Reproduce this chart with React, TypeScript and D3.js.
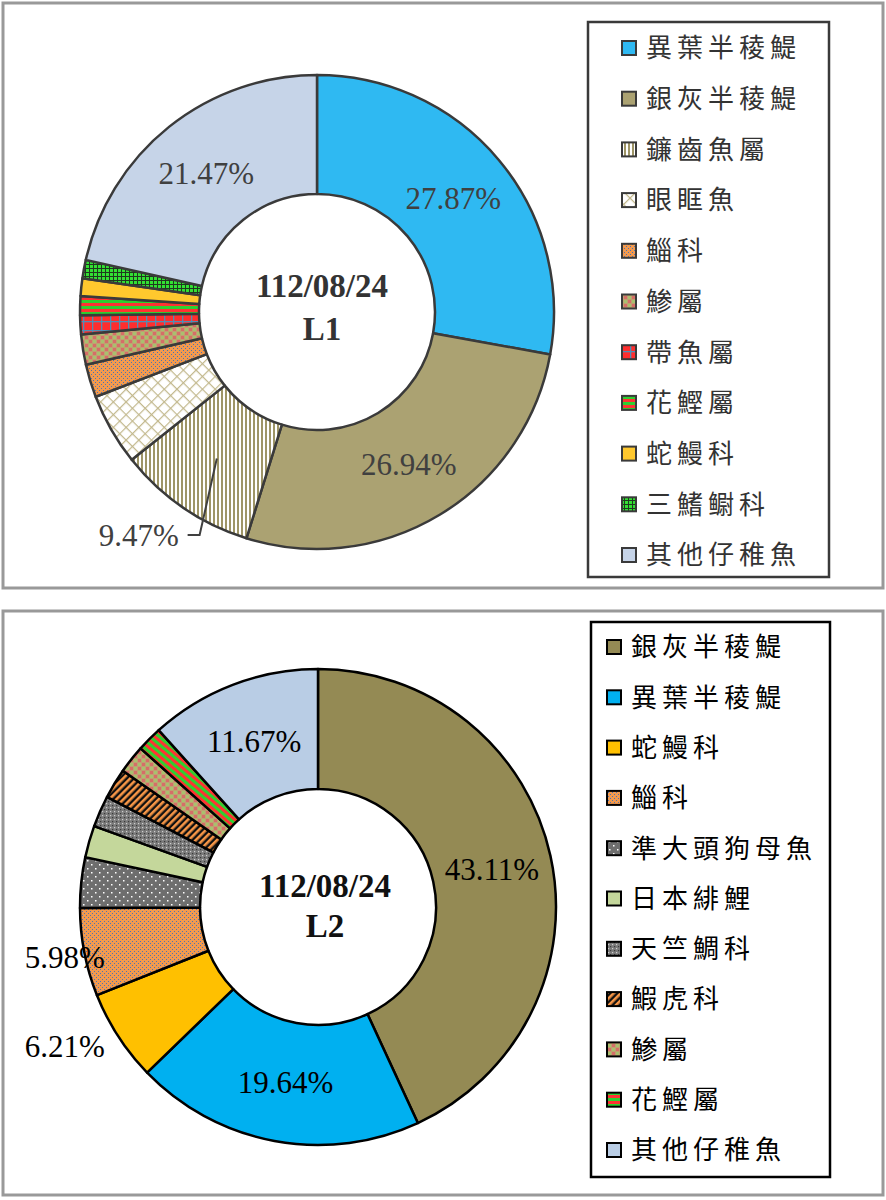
import React from "react";
import * as d3 from "d3";

// ---------- DATA ----------
const L1_NAMES = ["異葉半稜鯷", "銀灰半稜鯷", "鐮齒魚屬", "眼眶魚", "鯔科", "鯵屬", "帶魚屬", "花鰹屬", "蛇鰻科", "三鰭鳚科", "其他仔稚魚"];
const L1_VALUES = [27.87, 26.94, 9.47, 4.9, 2.25, 2.05, 1.3, 1.3, 1.2, 1.25, 21.47];
const L1_FILLS = ["#2FB9F2", "#ABA272", "url(#pStripeV)", "url(#pCross)", "url(#pDotOrange)", "url(#pCheck)", "url(#pRedGrid)", "url(#pGreenRedH)", "#FFC82E", "url(#pGreenGrid)", "#C6D4E8"];

const L2_NAMES = ["銀灰半稜鯷", "異葉半稜鯷", "蛇鰻科", "鯔科", "準大頭狗母魚", "日本緋鯉", "天竺鯛科", "鰕虎科", "鯵屬", "花鰹屬", "其他仔稚魚"];
const L2_VALUES = [43.11, 19.64, 6.21, 5.98, 3.42, 2.16, 2.13, 2.05, 1.91, 1.72, 11.67];
const L2_FILLS = ["#948A54", "#00B0F0", "#FFC000", "url(#pDotOrange)", "url(#pGrayWhiteDot)", "#C4D79B", "url(#pGrayFineDot)", "url(#pOrangeDiag)", "url(#pCheck)", "url(#pGreenRedDiag)", "#B9CDE5"];
const L2_LEGEND_FILLS = ["#948A54", "#00B0F0", "#FFC000", "url(#pDotOrange)", "url(#pGrayWhiteDot)", "#C4D79B", "url(#pGrayFineDot)", "url(#pOrangeDiag)", "url(#pCheck)", "url(#pGreenRedH)", "#B9CDE5"];

const TITLE_DATE = "112/08/24";
const L1_TITLE = "L1";
const L2_TITLE = "L2";

// labels: index -> placement
type LabelCfg = { i: number; outside?: { r: number; shift: number }; leader?: { r: number; shift: number; dx: number } };
const L1_LABELS: LabelCfg[] = [
  { i: 0 },
  { i: 1 },
  { i: 2, outside: { r: 286, shift: 4.2 }, leader: { r: 252, shift: -6.6, dx: -12 } },
  { i: 10 },
];
const L2_LABELS: LabelCfg[] = [
  { i: 0 },
  { i: 1 },
  { i: 2, outside: { r: 289, shift: 4.1 } },
  { i: 3, outside: { r: 258, shift: -0.2 } },
  { i: 10 },
];

const SERIF = "'Liberation Serif', 'Times New Roman', serif";
const CJK = "'Noto Sans CJK TC', 'Noto Sans CJK SC', sans-serif";

function polar(r: number, a: number): [number, number] {
  return [r * Math.sin(a), -r * Math.cos(a)];
}

function Defs() {
  return (
    <defs>
      <pattern id="pStripeV" width="4" height="4" patternUnits="userSpaceOnUse">
        <rect width="4" height="4" fill="#FFFFFF" />
        <rect width="2" height="4" fill="#9E9566" />
      </pattern>
      <pattern id="pCross" width="9" height="9" patternUnits="userSpaceOnUse" patternTransform="rotate(45)">
        <rect width="9" height="9" fill="#FFFFFF" />
        <rect width="9" height="1.2" fill="#C2B88C" />
        <rect width="1.2" height="9" fill="#C2B88C" />
      </pattern>
      <pattern id="pDotOrange" width="4" height="4" patternUnits="userSpaceOnUse" shapeRendering="crispEdges">
        <rect width="4" height="4" fill="#F39A4E" />
        <rect x="0" y="0" width="1" height="1" fill="#4F74B0" />
        <rect x="2" y="2" width="1" height="1" fill="#4F74B0" />
      </pattern>
      <pattern id="pCheck" width="8" height="8" patternUnits="userSpaceOnUse">
        <rect width="8" height="8" fill="#C0A070" />
        <rect x="0" y="0" width="3" height="3" fill="#D56E68" />
        <rect x="4" y="0" width="3" height="3" fill="#A9C06E" />
        <rect x="0" y="4" width="3" height="3" fill="#A9C06E" />
        <rect x="4" y="4" width="3" height="3" fill="#D56E68" />
      </pattern>
      <pattern id="pRedGrid" width="9" height="9" patternUnits="userSpaceOnUse">
        <rect width="9" height="9" fill="#FF2E2E" />
        <rect width="1.3" height="9" fill="#4F8FB5" />
        <rect width="9" height="1.3" fill="#4F8FB5" />
      </pattern>
      <pattern id="pGreenRedH" width="6" height="6" patternUnits="userSpaceOnUse">
        <rect width="6" height="6" fill="#2FCF2F" />
        <rect y="3" width="6" height="3" fill="#FF3232" />
      </pattern>
      <pattern id="pGreenRedDiag" width="6" height="6" patternUnits="userSpaceOnUse" patternTransform="rotate(40)">
        <rect width="6" height="6" fill="#2FCF2F" />
        <rect y="3" width="6" height="3" fill="#FF3232" />
      </pattern>
      <pattern id="pGreenGrid" width="4" height="4" patternUnits="userSpaceOnUse">
        <rect width="4" height="4" fill="#1F3A1F" />
        <rect x="1" y="1" width="3" height="3" fill="#33E033" />
      </pattern>
      <pattern id="pGrayWhiteDot" width="8" height="8" patternUnits="userSpaceOnUse">
        <rect width="8" height="8" fill="#6E6E6E" />
        <rect x="1" y="1" width="1.5" height="1.5" fill="#FFFFFF" />
        <rect x="5" y="5" width="1.5" height="1.5" fill="#FFFFFF" />
      </pattern>
      <pattern id="pGrayFineDot" width="4" height="4" patternUnits="userSpaceOnUse">
        <rect width="4" height="4" fill="#7A7A7A" />
        <rect x="0" y="0" width="1.2" height="1.2" fill="#CFCFCF" />
        <rect x="2" y="2" width="1.2" height="1.2" fill="#3A3A3A" />
      </pattern>
      <pattern id="pOrangeDiag" width="5" height="5" patternUnits="userSpaceOnUse" patternTransform="rotate(45)">
        <rect width="5" height="5" fill="#111111" />
        <rect width="2.6" height="5" fill="#F79646" />
      </pattern>
    </defs>
  );
}

type DonutProps = {
  cx: number; cy: number; outerR: number; innerR: number;
  names: string[]; values: number[]; fills: string[];
  stroke: string; labelColor: string; labels: LabelCfg[];
  title: string; sub: string; titleDx: number; titleY1: number; titleY2: number; titleColor: string;
};

function Donut(p: DonutProps) {
  const pie = d3.pie<number>().sort(null).value((d) => d).startAngle(0).endAngle(2 * Math.PI);
  const arcs = pie(p.values);
  const arc = d3.arc<d3.PieArcDatum<number>>().innerRadius(p.innerR).outerRadius(p.outerR);
  const mid = (a: d3.PieArcDatum<number>) => (a.startAngle + a.endAngle) / 2;
  const deg = Math.PI / 180;
  return (
    <g transform={`translate(${p.cx},${p.cy})`}>
      {arcs.map((a, k) => (
        <path key={k} d={arc(a) || ""} fill={p.fills[k]} stroke={p.stroke} strokeWidth={2.5} strokeLinejoin="round" />
      ))}
      {p.labels.map((l) => {
        const a = arcs[l.i];
        const txt = p.values[l.i].toFixed(2) + "%";
        let x: number, y: number;
        if (l.outside) {
          [x, y] = polar(l.outside.r, mid(a) + l.outside.shift * deg);
        } else {
          [x, y] = arc.centroid(a);
        }
        let leader = null;
        if (l.leader) {
          const [sx, sy] = arc.centroid(a);
          const [ex, ey] = polar(l.leader.r, mid(a) + l.leader.shift * deg);
          leader = (
            <polyline points={`${sx},${sy} ${ex},${ey} ${ex + l.leader.dx},${ey}`} fill="none" stroke="#404040" strokeWidth={2} />
          );
        }
        return (
          <g key={"l" + l.i}>
            {leader}
            <text x={x} y={y} dy="0.35em" textAnchor="middle" fontFamily={SERIF} fontSize={31} fill={p.labelColor}>
              {txt}
            </text>
          </g>
        );
      })}
      <text x={p.titleDx} y={p.titleY1} textAnchor="middle" fontFamily={SERIF} fontWeight="bold" fontSize={33} fill={p.titleColor}>
        {p.title}
      </text>
      <text x={p.titleDx} y={p.titleY2} textAnchor="middle" fontFamily={SERIF} fontWeight="bold" fontSize={33} fill={p.titleColor}>
        {p.sub}
      </text>
    </g>
  );
}

type LegendProps = {
  x0: number; y0: number; x1: number; y1: number;
  names: string[]; fills: string[]; first: number; last: number;
  markerX: number; textX: number; color: string; stroke: string;
};

function Legend(p: LegendProps) {
  const y = d3.scalePoint<string>().domain(p.names).range([p.first, p.last]);
  return (
    <g>
      <rect x={p.x0} y={p.y0} width={p.x1 - p.x0} height={p.y1 - p.y0} fill="#FFFFFF" stroke={p.stroke} strokeWidth={2.5} />
      {p.names.map((n, k) => {
        const cy = y(n) as number;
        return (
          <g key={n}>
            <rect x={p.markerX} y={cy - 7} width={14} height={14} fill={p.fills[k]} stroke={p.stroke} strokeWidth={2} />
            <text x={p.textX} y={cy} dy="0.36em" fontFamily={CJK} fontSize={26} letterSpacing={5} fill={p.color}>
              {n}
            </text>
          </g>
        );
      })}
    </g>
  );
}

export default function App() {
  return (
    <svg width={886} height={1200} style={{ position: "absolute", left: 0, top: 0, background: "#FFFFFF" }}>
      <Defs />
      <rect x={0} y={0} width={886} height={1200} fill="#FFFFFF" />
      {/* panel 1 */}
      <rect x={3} y={3} width={880} height={585} fill="#FFFFFF" stroke="#999999" strokeWidth={3} />
      <Donut
        cx={317} cy={312} outerR={237} innerR={118}
        names={L1_NAMES} values={L1_VALUES} fills={L1_FILLS}
        stroke="#3A3A3A" labelColor="#404040" labels={L1_LABELS}
        title={TITLE_DATE} sub={L1_TITLE} titleDx={5} titleY1={-15} titleY2={28} titleColor="#333333"
      />
      <Legend x0={588} y0={22} x1={829} y1={577} names={L1_NAMES} fills={L1_FILLS}
        first={48} last={555} markerX={622} textX={646} color="#333333" stroke="#3A3A3A" />
      {/* panel 2 */}
      <rect x={3} y={611} width={880} height={584} fill="#FFFFFF" stroke="#999999" strokeWidth={3} />
      <Donut
        cx={318} cy={907} outerR={238} innerR={118}
        names={L2_NAMES} values={L2_VALUES} fills={L2_FILLS}
        stroke="#000000" labelColor="#000000" labels={L2_LABELS}
        title={TITLE_DATE} sub={L2_TITLE} titleDx={7} titleY1={-10} titleY2={30} titleColor="#111111"
      />
      <Legend x0={591} y0={622} x1={830} y1={1177} names={L2_NAMES} fills={L2_LEGEND_FILLS}
        first={647} last={1150} markerX={607} textX={631} color="#000000" stroke="#000000" />
    </svg>
  );
}
